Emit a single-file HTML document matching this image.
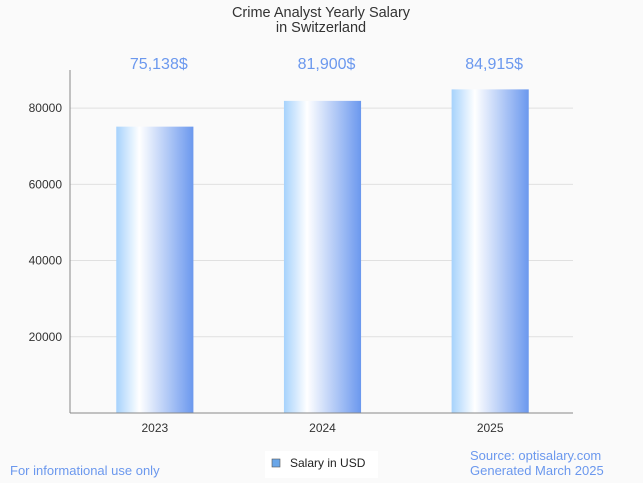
<!DOCTYPE html>
<html><head><meta charset="utf-8"><style>
body{margin:0;background:#fafafa;}
svg{display:block;font-family:"Liberation Sans",sans-serif;}
</style></head><body>
<svg width="643" height="483">
<defs>
<linearGradient id="bg" x1="0" x2="1" y1="0" y2="0">
<stop offset="0" stop-color="#a6d2fc"/>
<stop offset="0.3" stop-color="#ffffff"/>
<stop offset="1" stop-color="#6b98ee"/>
</linearGradient>
</defs>
<rect width="643" height="483" fill="#fafafa"/>
<text x="321" y="17" text-anchor="middle" font-size="14.5" fill="#333">Crime Analyst Yearly Salary</text>
<text x="321" y="32" text-anchor="middle" font-size="14.5" fill="#333">in Switzerland</text>
<g id="grid"></g>
<g id="bars"></g>
<line x1="70" y1="70" x2="70" y2="413" stroke="#888"/>
<line x1="70" y1="413" x2="573" y2="413" stroke="#888"/>
<rect x="265" y="451" width="113" height="27" fill="#fff"/>
<rect x="272" y="459" width="8" height="8" fill="#6aa6e8" stroke="#555" stroke-width="0.6"/>
<text x="290" y="467" font-size="12" fill="#222">Salary in USD</text>
<text x="10" y="475" font-size="13" fill="#6b98ee">For informational use only</text>
<text x="470" y="460" font-size="13" fill="#6b98ee">Source: optisalary.com</text>
<text x="470" y="475" font-size="13" fill="#6b98ee">Generated March 2025</text>
</svg>
<script>
const categories=["2023","2024","2025"];
const values=[75138,81900,84915];
const valueLabels=["75,138$","81,900$","84,915$"];
const yTicks=[20000,40000,60000,80000];
const NS="http://www.w3.org/2000/svg";
const x0=70,x1=573,yBase=413,yMax=90000,plotTop=70;
function y(v){return yBase-(v/yMax)*(yBase-plotTop);}
function bandX(i){return x0+(x1-x0)/categories.length*(i+0.5)+1;}
const bw=(x1-x0)/categories.length*0.46;
function mk(tag,attrs,parent){const e=document.createElementNS(NS,tag);for(const k in attrs)e.setAttribute(k,attrs[k]);parent.appendChild(e);return e;}
const grid=document.getElementById('grid'),bars=document.getElementById('bars');
yTicks.forEach(t=>{
const l=mk('line',{x1:x0,x2:x1,y1:y(t),y2:y(t),stroke:'#e0e0e0'},grid);


const tx=mk('text',{x:x0-8,y:y(t)+4,'text-anchor':'end','font-size':12,fill:'#333'},grid);
tx.textContent=t;


});
categories.forEach((c,i)=>{
const cx=bandX(i);
const r=mk('rect',{x:cx-bw/2,y:y(values[i]),width:bw,height:yBase-y(values[i]),fill:'url(#bg)'},bars);


const lb=mk('text',{x:cx+4,y:69,'text-anchor':'middle','font-size':16,fill:'#6b98ee'},bars);
lb.textContent=valueLabels[i];


const xl=mk('text',{x:cx,y:432,'text-anchor':'middle','font-size':12,fill:'#333'},bars);
xl.textContent=c;


});
</script>
</body></html>
